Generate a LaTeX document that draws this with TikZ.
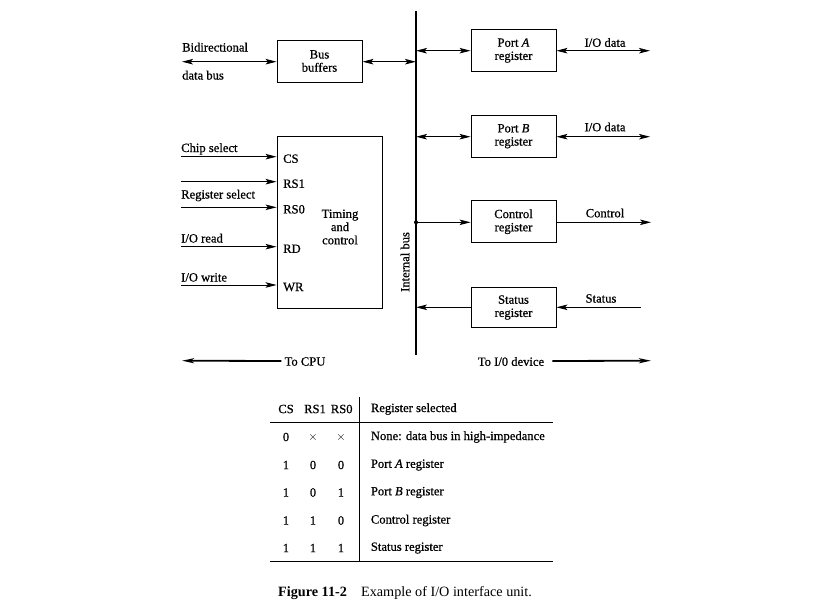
\documentclass[tikz,border=0pt]{standalone}
\usepackage{fontspec}
\setmainfont{Liberation Serif}
\newfontfamily\semib[FakeBold=0.7]{Liberation Serif}
\usetikzlibrary{arrows.meta}
\begin{document}
\begin{tikzpicture}[x=1pt,y=-1pt,
  every node/.style={font=\semib\fontsize{12.6}{13.2}\selectfont, inner sep=0pt},
  blk/.style={draw, line width=0.9pt},
  lbl/.style={anchor=base west},
  conn/.style={line width=0.9pt},
  tip/.style={-{Stealth[length=11pt,width=5.5pt,inset=2.5pt]}},
  dtip/.style={{Stealth[length=11pt,width=5.5pt,inset=2.5pt]}-{Stealth[length=11pt,width=5.5pt,inset=2.5pt]}},
  bigtip/.style={line width=1.8pt,-{Stealth[length=12pt,width=5pt,inset=3pt]}},
  tab/.style={},
]
\useasboundingbox (0,0) rectangle (819,603);
% internal bus
\coordinate (bt) at (416,11);
\coordinate (bb) at (416,355);
\draw[line width=1.3pt] (bt) -- (bb);
\node[rotate=90] (ib) at (405,262) {Internal bus};

% bus buffers
\node[blk, minimum width=85pt, minimum height=42pt, align=center] (buf) at (319.5,61) {Bus\\buffers};
\coordinate (dbL) at (182,61.7);
\coordinate (dbB) at (416,61.7);
\draw[conn,dtip] (dbL) -- (buf.west |- dbL);
\draw[conn,dtip] (buf.east |- dbB) -- (dbB);
\node[lbl] (bidir) at (182,51.5) {Bidirectional};
\node[lbl] (dbus) at (182,79.5) {data bus};

% timing and control
\node[blk, minimum width=105pt, minimum height=172pt] (tc) at (329.5,222) {};
\node[align=center] (tctext) at (340,227) {Timing\\and\\control};
\foreach \n/\y/\t in {cs/156.7/CS, rsa/181.7/RS1, rsb/207.3/RS0, rd/246.7/RD, wr/285/WR}{
  \coordinate (\n L) at (181,\y);
  \draw[conn,tip] (\n L) -- (tc.west |- \n L);
  \node[anchor=west] (\n P) at (283,\y+2) {\t};
}
\node[lbl] (chip) at (181,152) {Chip select};
\node[lbl] (regsel) at (181,198.5) {Register select};
\node[lbl] (ioread) at (181,242.5) {I/O read};
\node[lbl] (iowrite) at (181,281.5) {I/O write};

% registers
\node[blk, minimum width=85pt, minimum height=42pt, align=center] (pa) at (513.5,50.5) {Port \textit{A}\\register};
\node[blk, minimum width=85pt, minimum height=42pt, align=center] (pb) at (513.5,136.2) {Port \textit{B}\\register};
\node[blk, minimum width=85pt, minimum height=42pt, align=center] (cr) at (513.5,221.7) {Control\\register};
\node[blk, minimum width=85pt, minimum height=40.5pt, align=center] (sr) at (513.5,307.5) {Status\\register};

\coordinate (paB) at (416,50.7);
\coordinate (paR) at (650,50.7);
\draw[conn,dtip] (paB) -- (pa.west |- paB);
\draw[conn,dtip] (pa.east |- paR) -- (paR);
\node (pal) at (605,42.5) {I/O data};

\coordinate (pbB) at (416,136.7);
\coordinate (pbR) at (650,136.7);
\draw[conn,dtip] (pbB) -- (pb.west |- pbB);
\draw[conn,dtip] (pb.east |- pbR) -- (pbR);
\node (pbl) at (605,127) {I/O data};

\coordinate (crB) at (416,222.3);
\coordinate (crR) at (651,222.3);
\fill (crB) circle (2pt);
\draw[conn,tip] (crB) -- (cr.west |- crB);
\draw[conn,tip] (cr.east |- crR) -- (crR);
\node (crl) at (605,213) {Control};

\coordinate (srB) at (416,307.3);
\coordinate (srR) at (641,307.3);
\draw[conn,tip] (sr.west |- srB) -- (srB);
\draw[conn,tip] (srR) -- (sr.east |- srR);
\node (srl) at (601,298.5) {Status};

% bottom arrows
\node (tocpu) at (305,361.5) {To CPU};
\node (todev) at (511,361.5) {To I/0 device};
\coordinate (cpuL) at (182,360.7);
\coordinate (devR) at (651,360.7);
\draw[bigtip] (tocpu.west) ++(-3,-0.5) -- (cpuL);
\draw[bigtip] (todev.east) ++(8,-0.5) -- (devR);

% table
\coordinate (tl) at (270,422.3);
\coordinate (tr) at (553,422.3);
\coordinate (bl) at (270,561.7);
\coordinate (br) at (553,561.7);
\coordinate (vt) at (359.3,397);
\coordinate (vb) at (359.3,561.7);
\draw[line width=1pt] (tl) -- (tr);
\draw[line width=1pt] (bl) -- (br);
\draw[line width=1pt] (vt) -- (vb);
\node[tab] (h1) at (286,409) {CS};
\node[tab] (h2) at (315,409) {RS1};
\node[tab] (h3) at (341.7,409) {RS0};
\node[tab,anchor=west] (h4) at (370.7,409) {Register selected};
\foreach \i/\y/\a/\b/\c/\t in {1/437/0/$\times$/$\times$/{None: data bus in high-impedance},
  2/465/1/0/0/{Port \textit{A} register},
  3/492.5/1/0/1/{Port \textit{B} register},
  4/520.5/1/1/0/{Control register},
  5/548/1/1/1/{Status register}}{
  \node[tab] (r\i a) at (286,\y) {\a};
  \node[tab] (r\i b) at (313,\y) {\b};
  \node[tab] (r\i c) at (341,\y) {\c};
  \node[tab,anchor=west] (r\i d) at (370.7,\y) {\t};
}

% caption
\node[anchor=base west, font=\rmfamily\fontsize{14.2}{15}\selectfont] (cap) at (278,596.5) {\textbf{Figure 11-2}\hspace{1em}Example of I/O interface unit.};
\end{tikzpicture}
\end{document}
